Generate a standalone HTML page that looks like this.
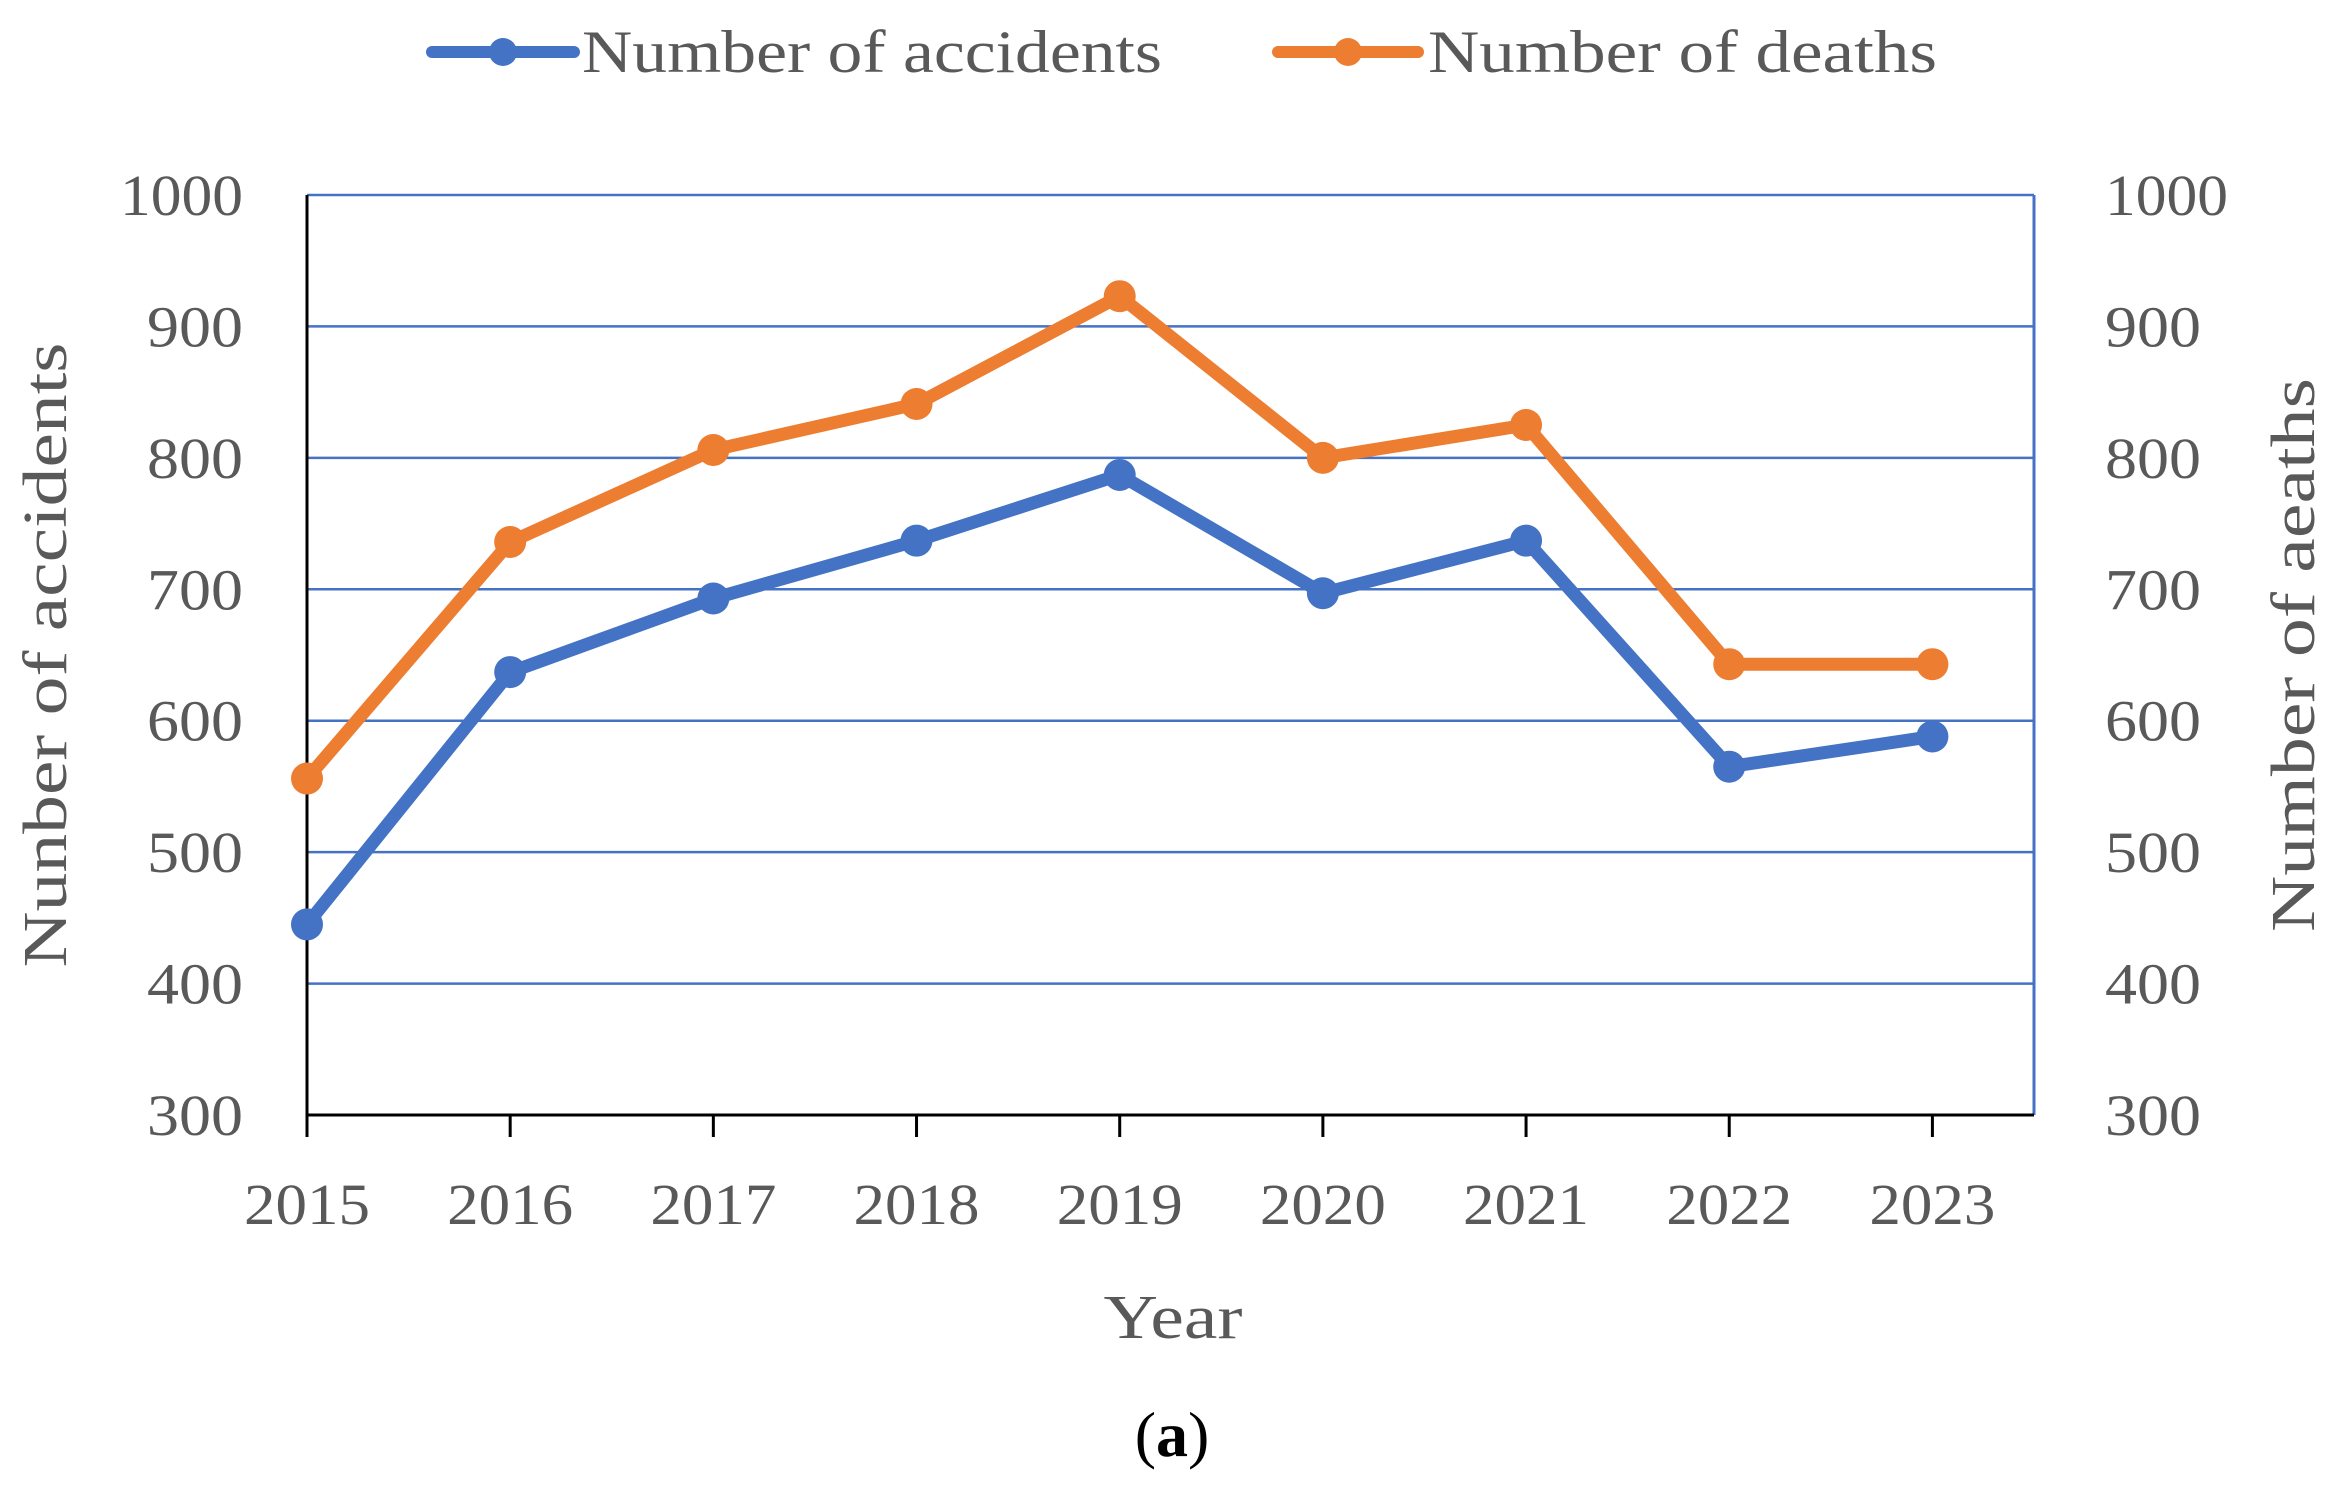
<!DOCTYPE html>
<html><head><meta charset="utf-8"><style>
html,body{margin:0;padding:0;background:#fff;}
svg{display:block;font-family:"Liberation Serif",serif;}
</style></head><body>
<svg id="chart" width="2349" height="1498" viewBox="0 0 2349 1498">
<g id="grid"></g>
<g id="axes"></g>
<g id="series"></g>
<g>
 <g>
  <line x1="432" y1="52" x2="574" y2="52" stroke="#4472C4" stroke-width="12" stroke-linecap="round"/>
  <circle cx="503" cy="52" r="14" fill="#4472C4"/>
  <text x="582" y="72" font-size="60" fill="#595959" textLength="580" lengthAdjust="spacingAndGlyphs">Number of accidents</text>
 </g>
 <g>
  <line x1="1278" y1="52" x2="1418" y2="52" stroke="#ED7D31" stroke-width="12" stroke-linecap="round"/>
  <circle cx="1348" cy="52" r="14" fill="#ED7D31"/>
  <text x="1428" y="72" font-size="60" fill="#595959" textLength="509" lengthAdjust="spacingAndGlyphs">Number of deaths</text>
 </g>
</g>
<text x="52" y="655" transform="rotate(-90 52 655)" text-anchor="middle" dominant-baseline="middle" font-size="62" fill="#595959" textLength="625" lengthAdjust="spacingAndGlyphs">Nunber of accidents</text>
<text x="2300" y="655" transform="rotate(-90 2300 655)" text-anchor="middle" dominant-baseline="middle" font-size="62" fill="#595959" textLength="554" lengthAdjust="spacingAndGlyphs">Number of aeaths</text>
<text x="1173" y="1338" text-anchor="middle" font-size="62" fill="#595959" textLength="139" lengthAdjust="spacingAndGlyphs">Year</text>
<text x="1172" y="1456" text-anchor="middle" font-size="64" fill="#000">(<tspan font-weight="bold">a</tspan>)</text>
</svg>
<script>
const years = ["2015","2016","2017","2018","2019","2020","2021","2022","2023"];
const accidents = [445, 637, 693, 737, 787, 697, 737, 565, 588];
const deaths = [556, 736, 806, 841, 923, 800, 825, 643, 643];
const yTicks = [300, 400, 500, 600, 700, 800, 900, 1000];

const L=307, R=2034, T=195, B=1115, yMin=300, yMax=1000;
const band=(R-L)/8.5;
const xs=i=>L+i*band;
const ys=v=>B-(v-yMin)/(yMax-yMin)*(B-T);
const NS="http://www.w3.org/2000/svg";
function mk(tag,attrs,parent){const e=document.createElementNS(NS,tag);for(const k in attrs)e.setAttribute(k,attrs[k]);parent.appendChild(e);return e;}
const grid=document.getElementById('grid'), axes=document.getElementById('axes'), series=document.getElementById('series');

yTicks.forEach(v=>{
  if(v>yMin){
    const g=mk('line',{x1:L,x2:R,y1:ys(v),y2:ys(v),stroke:'#4472C4','stroke-width':2.5},grid);
    
    
  }
  const w=String(v).length===4?123:96;
  const t1=mk('text',{x:243,y:ys(v)+20,'text-anchor':'end','font-size':58,fill:'#595959',textLength:w,lengthAdjust:'spacingAndGlyphs'},axes);
  t1.textContent=v;
  
  
  const t2=mk('text',{x:2105,y:ys(v)+20,'text-anchor':'start','font-size':58,fill:'#595959',textLength:w,lengthAdjust:'spacingAndGlyphs'},axes);
  t2.textContent=v;
  
  
});
const la=mk('line',{x1:L,x2:L,y1:T,y2:B,stroke:'#000','stroke-width':3},axes);


const ra=mk('line',{x1:R,x2:R,y1:T,y2:B,stroke:'#4472C4','stroke-width':3},axes);


const xa=mk('line',{x1:L,x2:R,y1:B,y2:B,stroke:'#000','stroke-width':3},axes);


years.forEach((y,i)=>{
  const tk=mk('line',{x1:xs(i),x2:xs(i),y1:B,y2:B+22,stroke:'#000','stroke-width':3},axes);
  
  
  const t=mk('text',{x:xs(i),y:1224,'text-anchor':'middle','font-size':58,fill:'#595959',textLength:126,lengthAdjust:'spacingAndGlyphs'},axes);
  t.textContent=y;
  
  
});
function drawSeries(vals,color,name){
  const p=mk('polyline',{points:vals.map((v,i)=>xs(i)+','+ys(v)).join(' '),fill:'none',stroke:color,'stroke-width':13,'stroke-linejoin':'round'},series);
  
  
  vals.forEach((v,i)=>{
    const c=mk('circle',{cx:xs(i),cy:ys(v),r:16,fill:color},series);
    
    
  });
}
drawSeries(deaths,'#ED7D31','deaths');
drawSeries(accidents,'#4472C4','accidents');
</script>
</body></html>
